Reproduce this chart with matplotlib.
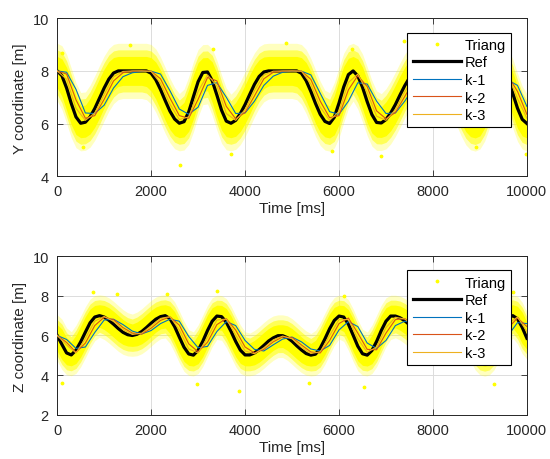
import numpy as np
import matplotlib
matplotlib.use("Agg")
import matplotlib.pyplot as plt

# Time axis of the sampled curves [ms]
t_ref = np.arange(0, 10001, 100)   # Ref sampled every 100 ms
t_k = np.arange(0, 10001, 200)     # k-1, k-2, k-3 sampled every 200 ms

# ---- Y coordinate [m] ----
ref_y = [8.00, 7.82, 7.35, 6.76, 6.25, 6.01, 6.05, 6.25, 6.57, 6.96,
         7.35, 7.69, 7.92, 8.00, 8.00, 8.00, 8.00, 8.00, 8.00, 8.00,
         7.91, 7.66, 7.29, 6.87, 6.47, 6.17, 6.01, 6.07, 6.44, 7.02,
         7.59, 7.94, 7.96, 7.63, 7.08, 6.50, 6.09, 6.01, 6.12, 6.38,
         6.72, 7.11, 7.49, 7.79, 7.96, 8.00, 8.00, 8.00, 8.00, 8.00,
         8.00, 8.00, 7.91, 7.63, 7.22, 6.76, 6.35, 6.08, 6.00, 6.24,
         6.78, 7.39, 7.86, 8.00, 7.81, 7.38, 6.83, 6.34, 6.04, 6.02,
         6.15, 6.40, 6.72, 7.09, 7.44, 7.74, 7.93, 8.00, 8.00, 8.00,
         8.00, 8.00, 8.00, 7.90, 7.62, 7.22, 6.78, 6.38, 6.10, 6.00,
         6.16, 6.59, 7.14, 7.68, 7.96, 7.96, 7.65, 7.14, 6.58, 6.16,
         6.00]
k1_y = [8.00, 7.95, 7.30, 6.40, 6.38, 6.70, 7.35, 7.78, 7.93, 7.98,
        7.99, 7.88, 7.25, 6.55, 6.35, 6.62, 7.45, 7.55, 7.00, 6.38,
        6.40, 6.85, 7.45, 7.80, 7.95, 7.99, 7.99, 7.85, 7.15, 6.45,
        6.35, 6.85, 7.55, 7.50, 6.85, 6.38, 6.40, 6.85, 7.40, 7.78,
        7.93, 7.98, 7.97, 7.58, 6.80, 6.35, 6.45, 7.15, 7.65, 7.45,
        6.65]
k2_y = [8.00, 7.88, 6.90, 6.20, 6.30, 6.92, 7.62, 7.93, 7.99, 8.00,
        7.99, 7.70, 6.97, 6.30, 6.20, 6.92, 7.75, 7.62, 6.65, 6.18,
        6.42, 7.05, 7.70, 7.95, 7.99, 8.00, 7.99, 7.68, 6.85, 6.22,
        6.30, 7.28, 7.82, 7.40, 6.48, 6.18, 6.42, 7.03, 7.65, 7.93,
        7.99, 8.00, 7.90, 7.30, 6.50, 6.18, 6.55, 7.50, 7.80, 7.22,
        6.35]
k3_y = [8.00, 7.68, 6.58, 6.12, 6.40, 7.10, 7.78, 7.98, 8.00, 8.00,
        7.98, 7.53, 6.74, 6.15, 6.25, 7.22, 7.85, 7.43, 6.38, 6.12,
        6.53, 7.25, 7.84, 7.99, 8.00, 8.00, 7.99, 7.50, 6.62, 6.12,
        6.46, 7.56, 7.88, 7.18, 6.28, 6.12, 6.53, 7.21, 7.80, 7.98,
        8.00, 8.00, 7.82, 7.06, 6.32, 6.12, 6.80, 7.72, 7.82, 6.95,
        6.20]
# scattered Triang points away from the dense cloud
out_y_t = [94, 555, 1552, 2625, 3325, 3690, 4861, 5858, 6285, 6890, 7388, 8100, 8918, 9985]
out_y_v = [8.70, 5.09, 9.00, 4.43, 8.83, 4.83, 9.08, 4.96, 8.83, 4.77, 9.14, 9.00, 5.09, 4.83]

# ---- Z coordinate [m] ----
ref_z = [6.00, 5.55, 5.12, 5.02, 5.26, 5.68, 6.17, 6.64, 6.93, 7.00,
         6.93, 6.77, 6.57, 6.35, 6.16, 6.04, 6.00, 6.06, 6.20, 6.40,
         6.62, 6.82, 6.95, 7.00, 6.85, 6.45, 5.92, 5.41, 5.07, 5.01,
         5.25, 5.71, 6.25, 6.72, 6.98, 6.95, 6.67, 6.21, 5.70, 5.26,
         5.02, 5.02, 5.12, 5.29, 5.50, 5.72, 5.88, 5.99, 5.99, 5.89,
         5.71, 5.48, 5.27, 5.09, 5.01, 5.06, 5.36, 5.83, 6.34, 6.76,
         6.98, 6.93, 6.57, 6.02, 5.46, 5.08, 5.01, 5.24, 5.70, 6.25,
         6.72, 6.98, 6.98, 6.89, 6.74, 6.54, 6.34, 6.16, 6.04, 6.00,
         6.07, 6.25, 6.50, 6.75, 6.93, 7.00, 6.87, 6.50, 6.00, 5.50,
         5.13, 5.00, 5.13, 5.50, 6.00, 6.50, 6.87, 7.00, 6.84, 6.41,
         5.86]
k1_z = [6.00, 5.80, 5.35, 5.42, 6.15, 6.78, 6.82, 6.55, 6.22, 6.08,
        6.25, 6.60, 6.82, 6.72, 5.95, 5.38, 5.45, 6.20, 6.70, 6.50,
        5.75, 5.30, 5.22, 5.53, 5.82, 5.92, 5.68, 5.32, 5.22, 5.50,
        6.28, 6.70, 6.45, 5.62, 5.35, 5.75, 6.50, 6.72, 6.62, 6.35,
        6.12, 6.15, 6.50, 6.80, 6.72, 6.00, 5.40, 5.35, 6.00, 6.65,
        6.60]
k2_z = [6.00, 5.65, 5.15, 5.62, 6.50, 6.92, 6.80, 6.40, 6.12, 6.07,
        6.37, 6.76, 6.94, 6.52, 5.58, 5.18, 5.66, 6.55, 6.85, 6.27,
        5.42, 5.12, 5.30, 5.68, 5.93, 5.90, 5.52, 5.17, 5.12, 5.75,
        6.60, 6.88, 6.12, 5.30, 5.28, 6.12, 6.80, 6.85, 6.56, 6.22,
        6.05, 6.25, 6.68, 6.92, 6.55, 5.62, 5.15, 5.48, 6.38, 6.88,
        6.45]
k3_z = [6.00, 5.52, 5.12, 5.85, 6.72, 6.96, 6.71, 6.30, 6.05, 6.12,
        6.49, 6.86, 6.95, 6.28, 5.32, 5.12, 5.90, 6.78, 6.83, 6.03,
        5.22, 5.08, 5.38, 5.78, 5.97, 5.83, 5.40, 5.09, 5.18, 6.00,
        6.80, 6.80, 5.84, 5.15, 5.42, 6.40, 6.92, 6.83, 6.46, 6.12,
        6.03, 6.35, 6.80, 6.95, 6.33, 5.40, 5.10, 5.70, 6.60, 6.93,
        6.20]
out_z_t = [94, 769, 1268, 2336, 2976, 3403, 3865, 5360, 6106, 6533, 8100, 9309, 9702]
out_z_v = [3.63, 8.17, 8.08, 8.08, 3.55, 8.25, 3.18, 3.63, 8.00, 3.38, 8.75, 3.55, 8.17]

# spread of the Triang cloud around the reference [m]
cloud_spread = [1.05, 0.8, 0.55]
cloud_alpha = [0.25, 0.55, 1.0]

x_ticks = [0, 2000, 4000, 6000, 8000, 10000]
y_ticks = [4, 6, 8, 10]
z_ticks = [2, 4, 6, 8, 10]

YELLOW = '#ffff00'
C_K1 = '#0072bd'
C_K2 = '#d95319'
C_K3 = '#edb120'
DARK = '#262626'

plt.rcParams['font.family'] = ['Liberation Sans', 'DejaVu Sans']


def dibujar_panel(ax, ref, k1, k2, k3, out_t, out_v, ticks, ylabel):
    ref = np.asarray(ref)
    # nube Triang: se ensancha un poco donde la referencia cambia rapido (jitter temporal)
    r = np.pad(ref, 1, mode='edge')
    mid_prev = (r[:-2] + r[1:-1]) / 2
    mid_next = (r[2:] + r[1:-1]) / 2
    lo = np.minimum(np.minimum(mid_prev, ref), mid_next)
    hi = np.maximum(np.maximum(mid_prev, ref), mid_next)
    for s, a in zip(cloud_spread, cloud_alpha):
        ax.fill_between(t_ref, lo - s, hi + s, color=YELLOW, alpha=a, lw=0, zorder=1)
    h_tri, = ax.plot(out_t, out_v, '.', color=YELLOW, ms=3.5, label='Triang', zorder=1)

    h_ref, = ax.plot(t_ref, ref, color='black', lw=2.3, label='Ref', zorder=2)
    h1, = ax.plot(t_k, k1, color=C_K1, lw=0.8, label='k-1', zorder=3)
    h2, = ax.plot(t_k, k2, color=C_K2, lw=0.8, label='k-2', zorder=3)
    h3, = ax.plot(t_k, k3, color=C_K3, lw=0.8, label='k-3', zorder=3)

    ax.set_xlim(0, 10000)
    ax.set_ylim(ticks[0], ticks[-1])
    ax.set_xticks(x_ticks)
    ax.set_yticks(ticks)
    ax.grid(True, color='#dcdcdc', lw=0.7)
    ax.set_axisbelow(True)
    ax.tick_params(direction='in', top=True, right=True, length=4, width=0.6,
                   colors=DARK, labelsize=10.5, pad=6)
    for sp in ax.spines.values():
        sp.set_color(DARK)
        sp.set_linewidth(0.7)
    ax.set_xlabel('Time [ms]', fontsize=11, color=DARK, labelpad=2)
    ax.set_ylabel(ylabel, fontsize=11, color=DARK, labelpad=4)

    leg = ax.legend(handles=[h_tri, h_ref, h1, h2, h3], loc='upper right',
                    bbox_to_anchor=(0.967, 0.91), borderaxespad=0,
                    fancybox=False, framealpha=1, edgecolor='black',
                    fontsize=10.5, handlelength=3.3, handletextpad=0.3,
                    labelspacing=0.25, borderpad=0.35, numpoints=1)
    leg.get_frame().set_linewidth(0.8)
    leg.set_zorder(5)


fig = plt.figure(figsize=(5.5, 4.6), dpi=100)
ax1 = fig.add_axes([0.104, 0.615, 0.854, 0.343])
ax2 = fig.add_axes([0.104, 0.096, 0.854, 0.345])

dibujar_panel(ax1, ref_y, k1_y, k2_y, k3_y, out_y_t, out_y_v, y_ticks, 'Y coordinate [m]')
dibujar_panel(ax2, ref_z, k1_z, k2_z, k3_z, out_z_t, out_z_v, z_ticks, 'Z coordinate [m]')

fig.savefig('out.png', dpi=100)
